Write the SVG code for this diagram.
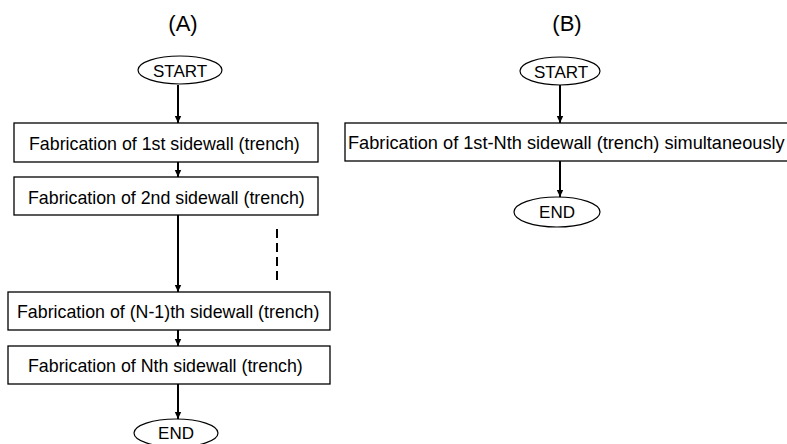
<svg xmlns="http://www.w3.org/2000/svg" width="787" height="444" viewBox="0 0 787 444">
<defs>
<marker id="ah" markerWidth="8" markerHeight="8" refX="7" refY="4" orient="auto" markerUnits="userSpaceOnUse">
<path d="M0,0.8 L7,4 L0,7.2 Z" fill="#000"/>
</marker>
<style>
.box{fill:#fff;stroke:#000;stroke-width:1.3}
.term{fill:#fff;stroke:#000;stroke-width:1.2}
.t{font-family:"Liberation Sans",Arial,sans-serif;font-size:17.8px;fill:#000}
.tt{font-family:"Liberation Sans",Arial,sans-serif;font-size:17px;fill:#000;text-anchor:middle}
.h{font-family:"Liberation Sans",Arial,sans-serif;font-size:22px;fill:#000;text-anchor:middle}
.c{stroke:#000;stroke-width:2;fill:none}
</style>
</defs>
<rect width="787" height="444" fill="#fff"/>
<text class="h" x="183" y="31">(A)</text>
<text class="h" x="567" y="31">(B)</text>
<g id="connectors">
<line class="c" x1="178" y1="85" x2="178" y2="123" marker-end="url(#ah)"/>
<line class="c" x1="178" y1="162" x2="178" y2="177" marker-end="url(#ah)"/>
<line class="c" x1="178" y1="215" x2="178" y2="292" marker-end="url(#ah)"/>
<line class="c" x1="178" y1="330" x2="178" y2="346" marker-end="url(#ah)"/>
<line class="c" x1="178" y1="384" x2="178" y2="419" marker-end="url(#ah)"/>
<line class="c" x1="277" y1="229" x2="277" y2="283" stroke-dasharray="9 5"/>
<line class="c" x1="560" y1="85" x2="560" y2="123" marker-end="url(#ah)"/>
<line class="c" x1="560" y1="161" x2="560" y2="197" marker-end="url(#ah)"/>
</g>
<g id="a-start">
<ellipse class="term" cx="180" cy="70" rx="42" ry="14"/>
<text class="tt" x="180" y="77">START</text>
</g>
<g id="a-step1">
<rect class="box" x="14" y="123" width="304" height="39"/>
<text class="t" x="29" y="150">Fabrication of 1st sidewall (trench)</text>
</g>
<g id="a-step2">
<rect class="box" x="14" y="177" width="304" height="38"/>
<text class="t" x="28" y="204">Fabrication of 2nd sidewall (trench)</text>
</g>
<g id="a-step3">
<rect class="box" x="8" y="292" width="322" height="38"/>
<text class="t" x="17" y="318">Fabrication of (N-1)th sidewall (trench)</text>
</g>
<g id="a-step4">
<rect class="box" x="8" y="346" width="322" height="38"/>
<text class="t" x="28" y="372">Fabrication of Nth sidewall (trench)</text>
</g>
<g id="a-end">
<ellipse class="term" cx="176" cy="433" rx="42" ry="14"/>
<text class="tt" x="176" y="439">END</text>
</g>
<g id="b-start">
<ellipse class="term" cx="560" cy="71" rx="40" ry="14"/>
<text class="tt" x="561" y="78">START</text>
</g>
<g id="b-step">
<rect class="box" x="345" y="123" width="450" height="38"/>
<text class="t" x="348" y="149" style="font-size:18.2px">Fabrication of 1st-Nth sidewall (trench) simultaneously</text>
</g>
<g id="b-end">
<ellipse class="term" cx="557" cy="212" rx="43" ry="15"/>
<text class="tt" x="557" y="218">END</text>
</g>
</svg>
